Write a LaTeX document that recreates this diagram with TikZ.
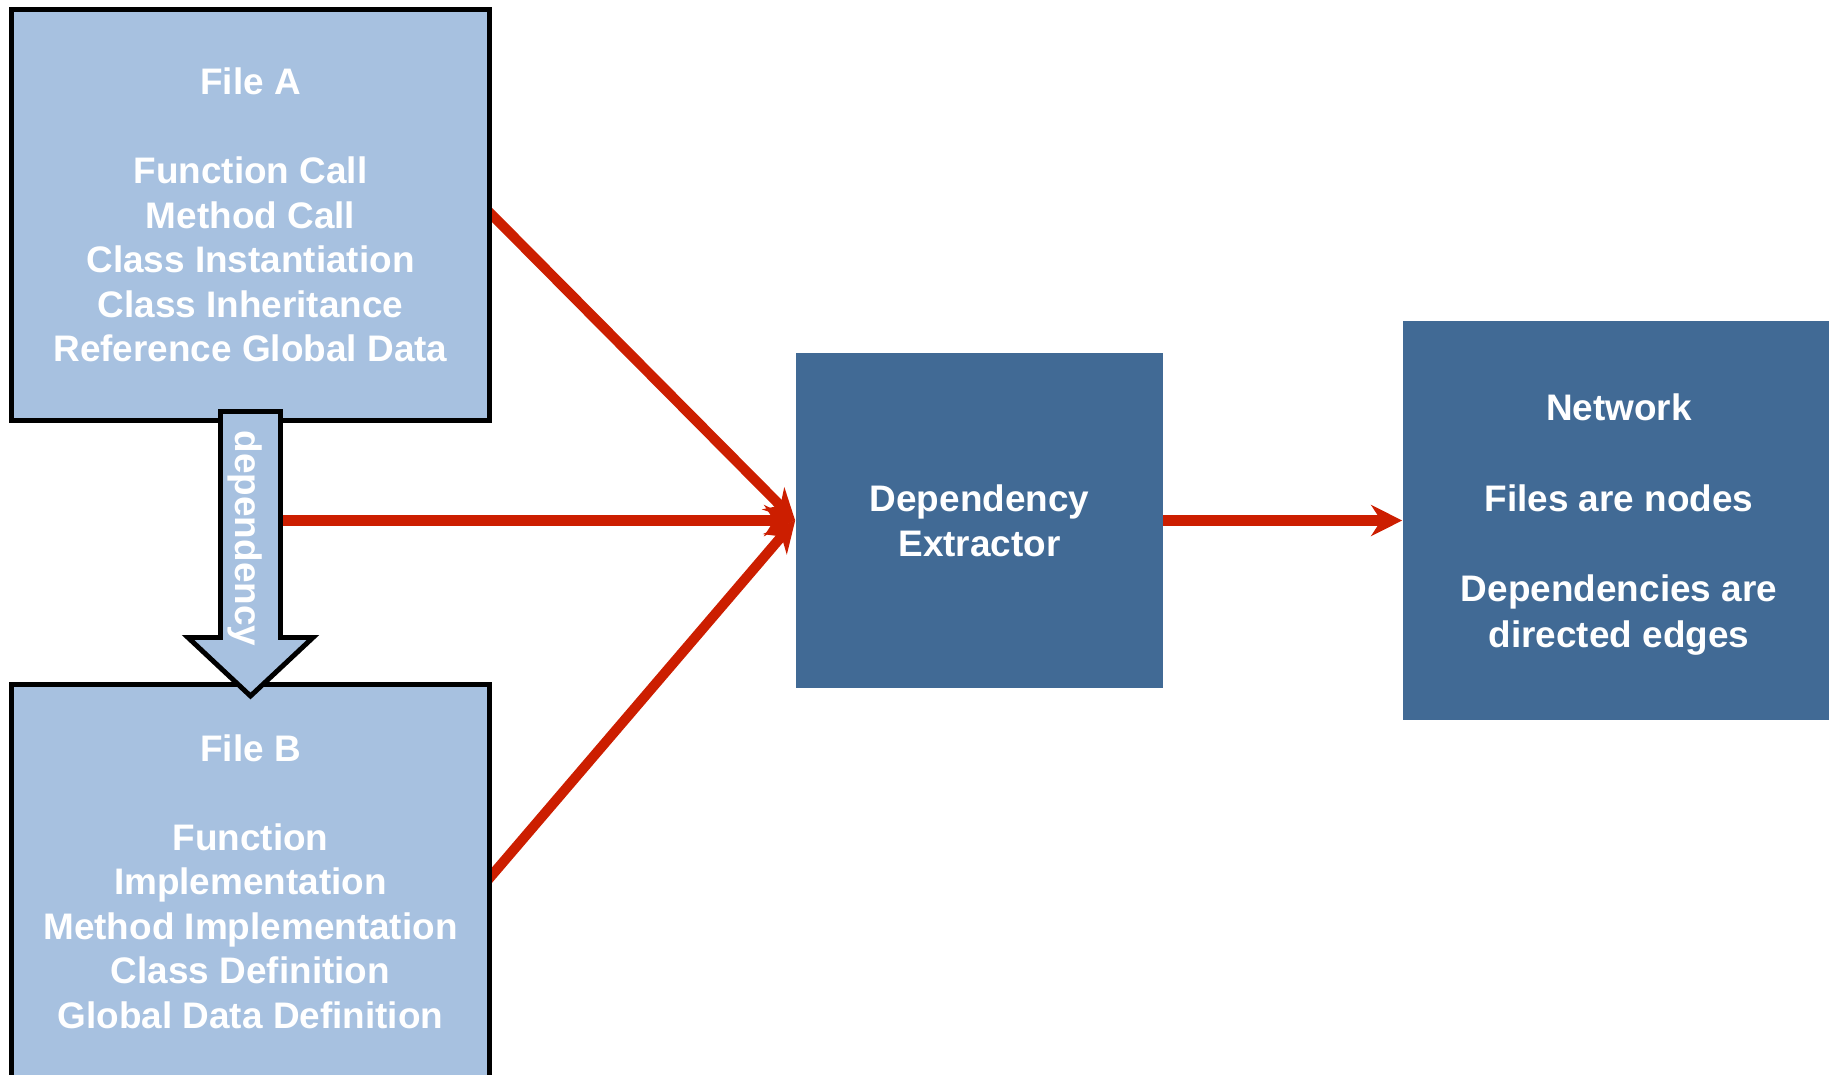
\documentclass[tikz,border=0pt]{standalone}
\usepackage{fontspec}
\setmainfont{Liberation Sans}
\usetikzlibrary{arrows.meta}
\definecolor{paleblue}{RGB}{167,193,224}
\definecolor{deepblue}{RGB}{65,106,149}
\definecolor{linkred}{RGB}{204,30,0}
\pgfdeclarelayer{background}
\pgfsetlayers{background,main}

\begin{document}
\begin{tikzpicture}[x=0.01cm, y=-0.01cm,
  boxtext/.style={text=white, align=center, inner sep=0pt, text depth=0pt,
    font=\bfseries\fontsize{10.5pt}{12.66pt}\selectfont},
  filebox/.style={boxtext, draw=black, fill=paleblue, line width=1.4pt, line join=miter},
  stagebox/.style={boxtext, fill=deepblue},
  blockarrow/.style={draw=black, fill=paleblue, line width=1.4pt, line join=miter},
  flow/.style={draw=linkred, line width=2.85pt, shorten <=-0.06cm,
    -{Stealth[length=0.31cm, width=0.31cm, inset=0.1cm]}},
]
\useasboundingbox (0,0) rectangle (1829,1075);
\clip (0,0) rectangle (1829,1075);

% source files
\node[filebox, minimum width=4.78cm, minimum height=4.11cm] (A) at (250.5,215)
  {File A\\[12.66pt]Function Call\\Method Call\\Class Instantiation\\Class Inheritance\\Reference Global Data};
\node[filebox, minimum width=4.78cm, minimum height=3.94cm] (B) at (250.5,881.5)
  {File B\\[12.66pt]Function\\Implementation\\Method Implementation\\Class Definition\\Global Data Definition};

% processing stages
\node[stagebox, minimum width=3.67cm, minimum height=3.35cm] (E) at (979.5,520.5)
  {Dependency\\Extractor};
\node[stagebox, minimum width=4.32cm, minimum height=3.98cm,
  font=\bfseries\fontsize{10.5pt}{13pt}\selectfont] (N) at (1619,520.5)
  {Network\\[12.8pt]Files are nodes\\[12.8pt]Dependencies are\\directed edges};

% block arrow from File A to File B
\draw[blockarrow] (220.5,411.5) -- (280.5,411.5) -- (280.5,637.5) -- (313,637.5)
  -- (250.5,696) -- (188,637.5) -- (220.5,637.5) -- cycle;
\node[rotate=-90, text=white, inner sep=0pt, font=\bfseries\fontsize{10.5pt}{12.66pt}\selectfont]
  (deplabel) at (245.5,538.5) {dependency};
\coordinate (depR) at (283,520.5);

% data flow
\begin{pgfonlayer}{background}
\draw[flow] (A.east) -- (E.west);
\draw[flow] (depR) -- (E.west);
\draw[flow] ([yshift=0.065cm]B.east) -- (E.west);
\draw[flow] (E.east) -- (N.west);
\end{pgfonlayer}
\end{tikzpicture}
\end{document}
